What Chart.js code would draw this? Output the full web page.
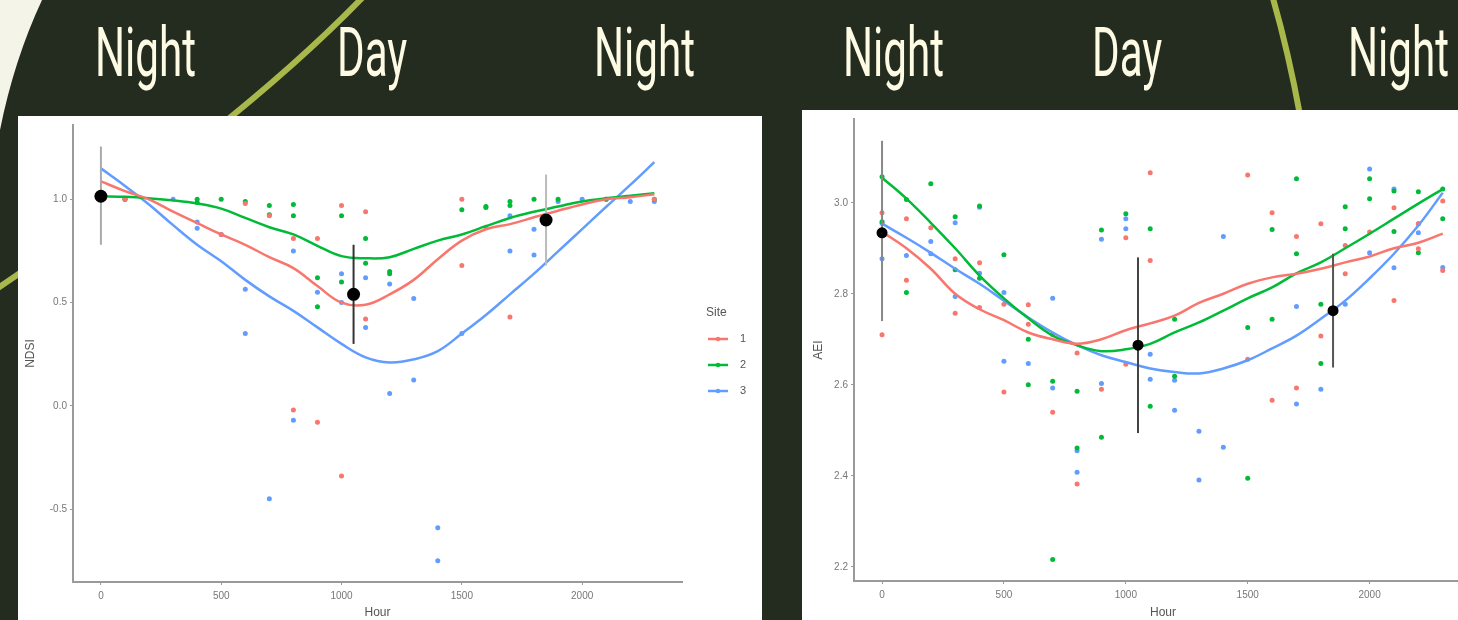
<!DOCTYPE html>
<html>
<head>
<meta charset="utf-8">
<script src="https://cdn.jsdelivr.net/npm/chart.js@4.4.1/dist/chart.umd.min.js"></script>
<style>
  html, body { margin: 0; padding: 0; width: 1458px; height: 620px; overflow: hidden; background: #242c1f; }
  #bg { position: absolute; left: 0; top: 0; }
  .panel { position: absolute; background: #fff; }
  .word { position: absolute; font-family: Roboto, sans-serif; font-size: 68px; line-height: 68px;
          color: #fdfbe4; transform: scaleX(0.62); transform-origin: 0 0; white-space: nowrap; }
  canvas.chart { position: absolute; }
</style>
</head>
<body>
<canvas id="bg" width="1458" height="620"></canvas>
<div class="word" style="left:95px;top:19px">Night</div>
<div class="word" style="left:337px;top:19px">Day</div>
<div class="word" style="left:594px;top:19px">Night</div>
<div class="word" style="left:843px;top:19px">Night</div>
<div class="word" style="left:1092px;top:19px">Day</div>
<div class="word" style="left:1348px;top:19px">Night</div>
<div class="panel" style="left:18px;top:116px;width:744px;height:504px"></div>
<div class="panel" style="left:802px;top:110px;width:656px;height:510px"></div>
<canvas id="ndsiChart" class="chart" width="744" height="504" style="left:18px;top:116px"></canvas>
<canvas id="aeiChart" class="chart" width="690" height="510" style="left:802px;top:110px"></canvas>
<script>
// hours of the day used by the smoothed curves
const hours = [0, 100, 200, 300, 400, 500, 600, 700, 800, 900, 1000, 1100,
               1200, 1300, 1400, 1500, 1600, 1700, 1800, 1900, 2000, 2100, 2200, 2300];
const hourTicks = [0, 500, 1000, 1500, 2000];
const siteNames = ['1', '2', '3'];
const siteColors = ['#F8766D', '#00BA38', '#619CFF'];

// NDSI smoothed curves (one value per hour)
const ndsiSmooth1 = [1.087, 1.04, 1.0, 0.94, 0.885, 0.83, 0.78, 0.72, 0.667, 0.58, 0.50, 0.49,
                     0.54, 0.61, 0.71, 0.80, 0.855, 0.88, 0.913, 0.945, 0.975, 1.0, 1.01, 1.025];
const ndsiSmooth2 = [1.015, 1.012, 1.005, 0.995, 0.98, 0.955, 0.91, 0.865, 0.83, 0.775, 0.725, 0.715,
                     0.72, 0.76, 0.80, 0.83, 0.87, 0.91, 0.94, 0.965, 0.99, 1.005, 1.018, 1.03];
const ndsiSmooth3 = [1.15, 1.065, 0.975, 0.875, 0.78, 0.70, 0.61, 0.53, 0.46, 0.38, 0.30, 0.235,
                     0.21, 0.225, 0.265, 0.35, 0.44, 0.54, 0.64, 0.748, 0.856, 0.964, 1.07, 1.18];

// NDSI observations [hour, value]
const ndsiPoints1 = [[0, 1.02], [100, 1.0], [500, 0.83], [600, 0.98], [700, 0.92], [800, 0.81], [800, -0.02],
                     [900, 0.81], [900, -0.08], [1000, 0.97], [1000, -0.34], [1100, 0.94], [1100, 0.42],
                     [1500, 1.0], [1500, 0.68], [1600, 0.865], [1700, 0.43], [2300, 1.0]];
const ndsiPoints2 = [[0, 1.01], [100, 1.0], [400, 1.0], [400, 0.985], [500, 1.0], [600, 0.99], [700, 0.97],
                     [700, 0.925], [800, 0.975], [800, 0.92], [900, 0.62], [900, 0.48], [1000, 0.92],
                     [1000, 0.60], [1100, 0.81], [1100, 0.69], [1200, 0.65], [1200, 0.64], [1500, 0.95],
                     [1600, 0.96], [1600, 0.965], [1700, 0.99], [1700, 0.97], [1800, 1.0], [1900, 1.0],
                     [2100, 1.0], [2300, 1.0]];
const ndsiPoints3 = [[0, 1.0], [100, 1.0], [300, 1.0], [400, 0.89], [400, 0.86], [500, 0.83], [600, 0.565],
                     [600, 0.35], [700, -0.45], [800, 0.75], [800, -0.07], [900, 0.55], [1000, 0.64],
                     [1000, 0.50], [1100, 0.62], [1100, 0.38], [1200, 0.59], [1200, 0.06], [1300, 0.52],
                     [1300, 0.125], [1400, -0.59], [1400, -0.75], [1500, 0.35], [1700, 0.92], [1700, 0.75],
                     [1800, 0.855], [1800, 0.73], [1900, 0.99], [2000, 1.0], [2100, 1.0], [2200, 0.99], [2300, 0.99]];

// NDSI means with error bars
const ndsiBarHours = [0, 1050, 1850];
const ndsiBarMean = [1.015, 0.54, 0.90];
const ndsiBarLow = [0.78, 0.30, 0.68];
const ndsiBarHigh = [1.256, 0.78, 1.12];

// AEI smoothed curves
const aeiSmooth1 = [2.936, 2.90, 2.855, 2.80, 2.766, 2.742, 2.715, 2.70, 2.69, 2.70, 2.72, 2.735,
                    2.752, 2.78, 2.80, 2.822, 2.836, 2.844, 2.855, 2.869, 2.882, 2.90, 2.912, 2.932];
const aeiSmooth2 = [3.055, 3.009, 2.956, 2.90, 2.84, 2.79, 2.746, 2.708, 2.687, 2.674, 2.678, 2.69,
                    2.715, 2.737, 2.763, 2.79, 2.814, 2.845, 2.869, 2.90, 2.932, 2.965, 2.998, 3.03];
const aeiSmooth3 = [2.954, 2.923, 2.89, 2.855, 2.822, 2.785, 2.748, 2.715, 2.687, 2.665, 2.65, 2.636,
                    2.628, 2.625, 2.636, 2.654, 2.68, 2.708, 2.745, 2.785, 2.834, 2.888, 2.95, 3.022];

// AEI observations [hour, value]
const aeiPoints1 = [[0, 2.978], [0, 2.71], [100, 2.965], [100, 2.83], [200, 2.945], [300, 2.877], [300, 2.757],
                    [400, 2.868], [400, 2.77], [500, 2.777], [500, 2.584], [600, 2.776], [600, 2.733],
                    [700, 2.71], [700, 2.54], [800, 2.67], [800, 2.382], [900, 2.59], [1000, 2.923],
                    [1000, 2.645], [1100, 3.066], [1100, 2.873], [1500, 3.061], [1500, 2.656], [1600, 2.978],
                    [1600, 2.566], [1700, 2.926], [1700, 2.593], [1800, 2.954], [1800, 2.707], [1900, 2.906],
                    [1900, 2.844], [2000, 2.936], [2100, 2.989], [2100, 2.785], [2200, 2.899], [2200, 2.954],
                    [2300, 3.004], [2300, 2.851]];
const aeiPoints2 = [[0, 3.057], [0, 2.958], [100, 3.007], [100, 2.803], [200, 3.042], [300, 2.969], [300, 2.853],
                    [400, 2.993], [400, 2.834], [500, 2.886], [600, 2.6], [600, 2.70], [700, 2.608], [700, 2.216],
                    [800, 2.586], [800, 2.461], [900, 2.94], [900, 2.485], [1000, 2.976], [1100, 2.943],
                    [1100, 2.553], [1200, 2.744], [1200, 2.619], [1500, 2.726], [1500, 2.395], [1600, 2.941],
                    [1600, 2.744], [1700, 3.053], [1700, 2.888], [1800, 2.777], [1800, 2.647], [1900, 2.991],
                    [1900, 2.943], [2000, 3.053], [2000, 3.009], [2100, 3.026], [2100, 2.937], [2200, 3.024],
                    [2200, 2.89], [2300, 3.03], [2300, 2.965]];
const aeiPoints3 = [[0, 2.955], [0, 2.877], [100, 2.884], [200, 2.915], [200, 2.888], [300, 2.956], [300, 2.794],
                    [400, 2.99], [400, 2.845], [500, 2.803], [500, 2.652], [600, 2.647], [700, 2.79], [700, 2.593],
                    [800, 2.455], [800, 2.408], [900, 2.92], [900, 2.603], [1000, 2.965], [1000, 2.943],
                    [1100, 2.667], [1100, 2.612], [1200, 2.61], [1200, 2.544], [1300, 2.498], [1300, 2.391],
                    [1400, 2.926], [1400, 2.463], [1700, 2.772], [1700, 2.558], [1800, 2.59], [1900, 2.777],
                    [2000, 3.074], [2000, 2.89], [2100, 3.03], [2100, 2.857], [2200, 2.954], [2200, 2.934],
                    [2300, 2.858]];

// AEI means with error bars
const aeiBarHours = [0, 1050, 1850];
const aeiBarMean = [2.934, 2.687, 2.763];
const aeiBarLow = [2.74, 2.494, 2.638];
const aeiBarHigh = [3.136, 2.88, 2.888];

// slide background: dark green, cream corner, two olive strokes
const bg = document.getElementById('bg').getContext('2d');
bg.fillStyle = '#242c1f';
bg.fillRect(0, 0, 1458, 620);
bg.fillStyle = '#f4f4e8';
bg.beginPath();
bg.moveTo(0, 0);
bg.lineTo(42, 0);
bg.quadraticCurveTo(14, 60, 0, 130);
bg.closePath();
bg.fill();
bg.strokeStyle = '#a9b84a';
bg.lineWidth = 6;
bg.beginPath();
bg.moveTo(365, -5);
bg.quadraticCurveTo(235, 130, -20, 300);
bg.stroke();
bg.beginPath();
bg.moveTo(1272, -5);
bg.quadraticCurveTo(1288, 50, 1300, 115);
bg.stroke();

function smoothSet(vals, color) {
    return {
        data: vals.map((v, i) => ({ x: hours[i], y: v })),
        showLine: true, pointRadius: 0, borderColor: color, borderWidth: 2.5, tension: 0.4
    };
}

function pointSet(pairs, color) {
    return {
        data: pairs.map(p => ({ x: p[0], y: p[1] })),
        showLine: false, pointRadius: 2.5, pointBorderWidth: 0, pointBackgroundColor: color
    };
}

function barSets(h, lo, hi, colors) {
    return h.map((x, i) => ({
        data: [{ x: x, y: lo[i] }, { x: x, y: hi[i] }],
        showLine: true, pointRadius: 0, borderColor: colors[i], borderWidth: 2
    }));
}

function meanSet(h, m, r) {
    return {
        data: h.map((x, i) => ({ x: x, y: m[i] })),
        showLine: false, pointRadius: r, pointBorderWidth: 0, pointBackgroundColor: '#000'
    };
}

const axisFont = { size: 10, family: 'Liberation Sans' };
const titleFont = { size: 12, family: 'Liberation Sans' };

function scales(cfg) {
    return {
        x: {
            type: 'linear', min: cfg.xMin, max: cfg.xMax,
            afterFit: s => { s.height = cfg.xHeight; },
            afterBuildTicks: s => { s.ticks = hourTicks.map(v => ({ value: v })); },
            ticks: { color: '#777', font: axisFont, padding: 5, maxRotation: 0, autoSkip: false,
                     callback: v => String(v) },
            grid: { display: true, drawOnChartArea: false, drawTicks: true, tickLength: 3, color: '#999' },
            border: { display: true, color: '#9a9a9a', width: 2 },
            title: { display: true, text: 'Hour', color: '#555', font: titleFont, padding: { top: 0, bottom: 0 } }
        },
        y: {
            type: 'linear', min: cfg.yMin, max: cfg.yMax,
            afterFit: s => { s.width = cfg.yWidth; },
            ticks: { stepSize: cfg.yStep, includeBounds: false, color: '#777', font: axisFont, padding: 3,
                     callback: v => v.toFixed(1) },
            grid: { display: true, drawOnChartArea: false, drawTicks: true, tickLength: 3, color: '#999' },
            border: { display: true, color: '#9a9a9a', width: 2 },
            title: { display: true, text: cfg.yTitle, color: '#555', font: titleFont, padding: { top: cfg.yTitlePad, bottom: 0 } }
        }
    };
}

// ggplot-like legend for the site colours
const siteLegend = {
    id: 'siteLegend',
    afterDraw(chart) {
        const ctx = chart.ctx;
        ctx.save();
        ctx.textBaseline = 'middle';
        ctx.textAlign = 'left';
        ctx.fillStyle = '#555';
        ctx.font = '12px "Liberation Sans"';
        ctx.fillText('Site', 688, 197);
        siteNames.forEach((name, i) => {
            const y = 223 + i * 26;
            ctx.strokeStyle = siteColors[i];
            ctx.lineWidth = 2.5;
            ctx.beginPath();
            ctx.moveTo(690, y);
            ctx.lineTo(710, y);
            ctx.stroke();
            ctx.fillStyle = siteColors[i];
            ctx.beginPath();
            ctx.arc(700, y, 2.2, 0, Math.PI * 2);
            ctx.fill();
            ctx.fillStyle = '#555';
            ctx.font = '11px "Liberation Sans"';
            ctx.fillText(name, 722, y);
        });
        ctx.restore();
    }
};

const ndsiChart = new Chart(document.getElementById('ndsiChart'), {
    type: 'scatter',
    data: {
        datasets: [
            meanSet(ndsiBarHours, ndsiBarMean, 6.5),
            ...barSets(ndsiBarHours, ndsiBarLow, ndsiBarHigh, ['#aaaaaa', '#333333', '#bbbbbb']),
            smoothSet(ndsiSmooth1, siteColors[0]),
            smoothSet(ndsiSmooth2, siteColors[1]),
            smoothSet(ndsiSmooth3, siteColors[2]),
            pointSet(ndsiPoints1, siteColors[0]),
            pointSet(ndsiPoints2, siteColors[1]),
            pointSet(ndsiPoints3, siteColors[2])
        ]
    },
    options: {
        responsive: false, animation: false, events: [],
        layout: { padding: { left: 0, top: 7, right: 80, bottom: 0 } },
        plugins: { legend: { display: false }, tooltip: { enabled: false } },
        scales: scales({ xMin: -116, xMax: 2415, xHeight: 38, yMin: -0.853, yMax: 1.36, yStep: 0.5,
                         yWidth: 55, yTitle: 'NDSI', yTitlePad: 5 })
    },
    plugins: [siteLegend]
});

const aeiChart = new Chart(document.getElementById('aeiChart'), {
    type: 'scatter',
    data: {
        datasets: [
            meanSet(aeiBarHours, aeiBarMean, 5.5),
            ...barSets(aeiBarHours, aeiBarLow, aeiBarHigh, ['#888888', '#444444', '#555555']),
            smoothSet(aeiSmooth1, siteColors[0]),
            smoothSet(aeiSmooth2, siteColors[1]),
            smoothSet(aeiSmooth3, siteColors[2]),
            pointSet(aeiPoints1, siteColors[0]),
            pointSet(aeiPoints2, siteColors[1]),
            pointSet(aeiPoints3, siteColors[2])
        ]
    },
    options: {
        responsive: false, animation: false, events: [],
        layout: { padding: { left: 0, top: 8, right: 20, bottom: 0 } },
        plugins: { legend: { display: false }, tooltip: { enabled: false } },
        scales: scales({ xMin: -115, xMax: 2420, xHeight: 39, yMin: 2.169, yMax: 3.184, yStep: 0.2,
                         yWidth: 52, yTitle: 'AEI', yTitlePad: 9 })
    }
});
</script>
</body>
</html>
